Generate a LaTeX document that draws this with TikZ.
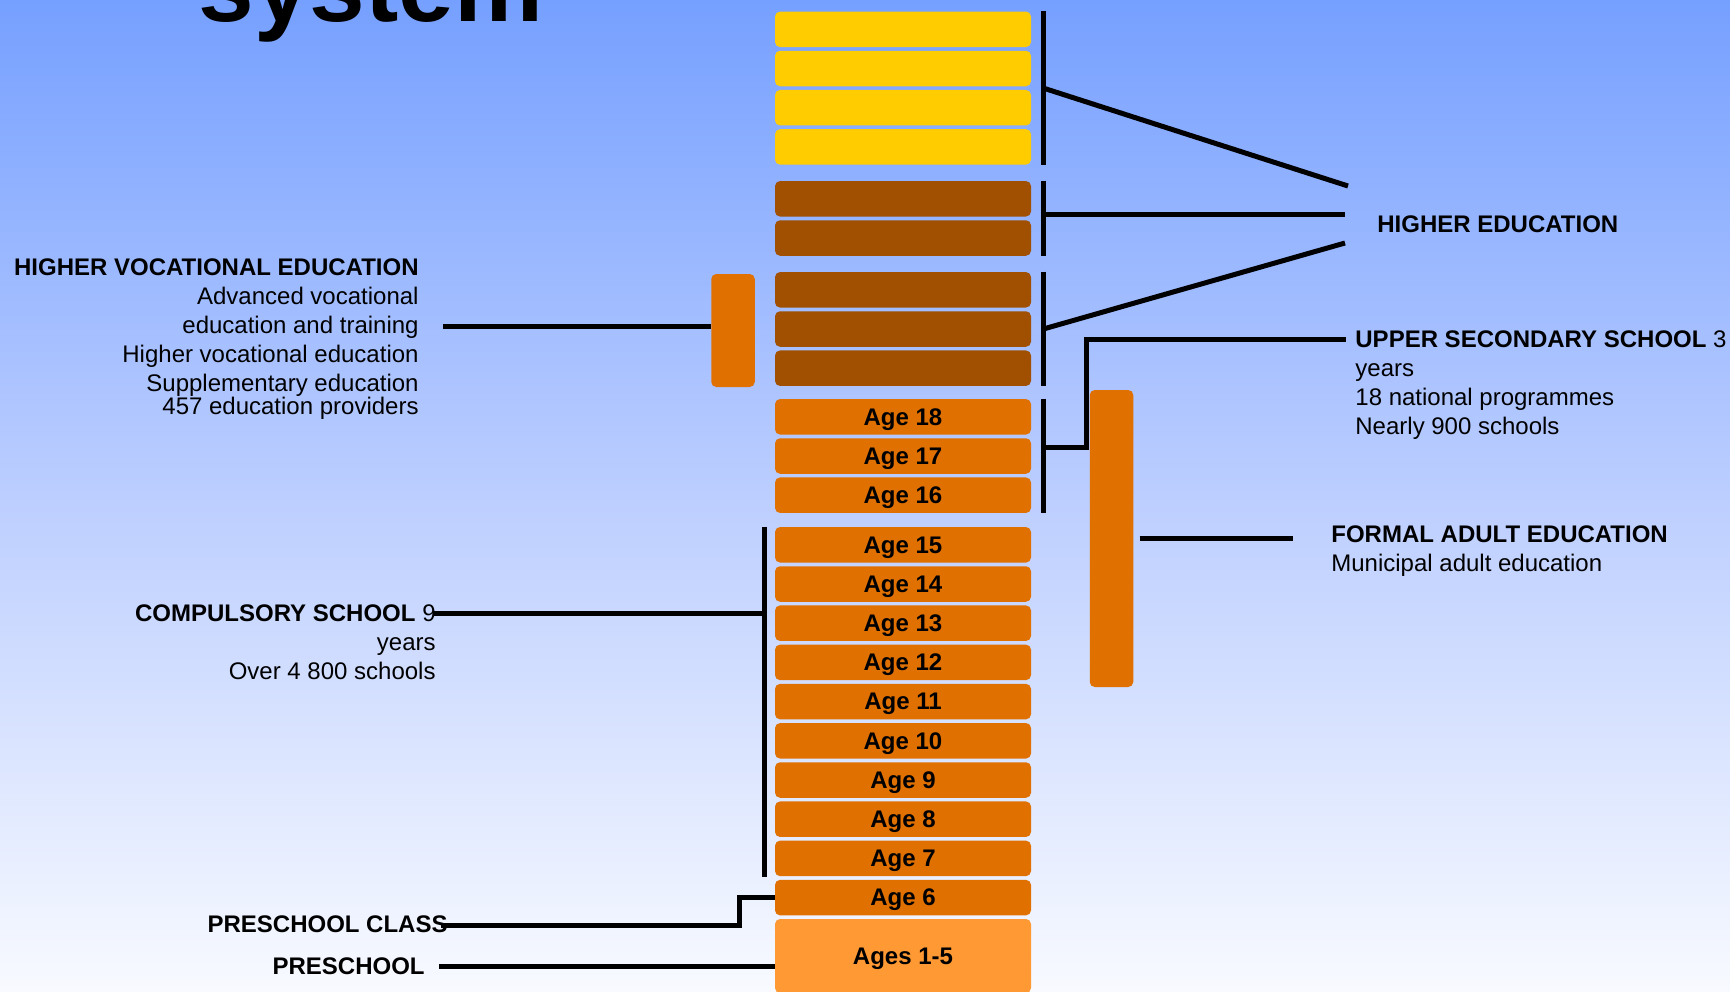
\documentclass[tikz,border=0pt]{standalone}
\usepackage{fontspec}
\setmainfont{Liberation Sans}
\usetikzlibrary{calc}
\definecolor{bgtop}{RGB}{118,160,255}
\definecolor{bgmid}{RGB}{188,206,255}
\definecolor{bgbot}{RGB}{248,250,255}
\definecolor{uniyellow}{RGB}{255,204,0}
\definecolor{unibrown}{RGB}{160,80,0}
\definecolor{ageorange}{RGB}{224,112,0}
\definecolor{preorange}{RGB}{255,153,51}
\pgfdeclareverticalshading{bgshade}{100bp}{color(0bp)=(bgbot); color(25bp)=(bgbot); color(50bp)=(bgmid); color(75bp)=(bgtop); color(100bp)=(bgtop)}

\begin{document}
\begin{tikzpicture}[x=0.5pt,y=-0.5pt]

    \tikzset{yearbox/.style={shape=rectangle,rounded corners=2.5pt,minimum width=128pt,minimum height=17.75pt,inner sep=0pt,text depth=0pt,font=\bfseries\fontsize{12}{14}\selectfont},
        unibox/.style={yearbox,fill=uniyellow},
        mastbox/.style={yearbox,fill=unibrown},
        agebox/.style={yearbox,fill=ageorange},
        barbox/.style={shape=rectangle,rounded corners=2.5pt,minimum width=21.75pt,inner sep=0pt,fill=ageorange},
        txt/.style={inner sep=0pt,font=\fontsize{12}{14.5}\selectfont}}

    \useasboundingbox (0,0) rectangle (1730,991);
    \clip (0,0) rectangle (1730,991);
    \shade[shading=bgshade] (0,0) rectangle (1730,991);

    \node[anchor=base west,inner sep=0pt,font=\bfseries\fontsize{50}{60}\selectfont] (title) at (198,21) {system};

    \foreach \i/\y in {1/29.3,2/68.5,3/107.7,4/146.9}
        \node[unibox] (u\i) at (903,\y) {};
    \foreach \i/\y in {1/198.8,2/238,3/289.8,4/329,5/368.2}
        \node[mastbox] (m\i) at (903,\y) {};
    \foreach \a/\y in {18/416.8,17/456,16/495.2,15/544.8,14/584,13/623.2,12/662.4,11/701.6,10/740.8,9/780,8/819.2,7/858.4,6/897.6}
        \node[agebox] (a\a) at (903,\y) {Age \a};
    \node[agebox,fill=preorange,minimum height=37pt] (pre) at (903,956) {Ages 1-5};

    \node[barbox,minimum height=56.5pt] (hvebar) at (733,330.5) {};
    \node[barbox,minimum height=148.5pt] (faebar) at (1111.5,538.5) {};

    \node[txt,align=right,anchor=base east] (hve) at (419,414) {\textbf{HIGHER VOCATIONAL EDUCATION}\\Advanced vocational\\education and training\\Higher vocational education\\Supplementary education\\[-3pt]457 education providers};
    \node[txt,align=right,anchor=base east] (cmp) at (436,679) {\textbf{COMPULSORY SCHOOL} 9\\years\\Over 4 800 schools};
    \node[txt,anchor=base east] (pcl) at (448,932) {\textbf{PRESCHOOL CLASS}};
    \node[txt,anchor=base east] (psc) at (425,974) {\textbf{PRESCHOOL}};
    \node[txt,anchor=base west] (he) at (1377,232) {\textbf{HIGHER EDUCATION}};
    \node[txt,align=left,anchor=base west] (uss) at (1355,434) {\textbf{UPPER SECONDARY SCHOOL} 3\\years\\18 national programmes\\Nearly 900 schools};
    \node[txt,align=left,anchor=base west] (fae) at (1331,571) {\textbf{FORMAL ADULT EDUCATION}\\Municipal adult education};

    \coordinate (hveend) at (443,326);
    \coordinate (cmpend) at (433,613);
    \coordinate (pclend) at (441,925);
    \coordinate (pscend) at (439,966);
    \coordinate (heup) at (1348,186);
    \coordinate (hemid) at (1345,214);
    \coordinate (helow) at (1345,243);
    \coordinate (ussend) at (1346,339);
    \coordinate (faeend) at (1293,538.5);

    \begin{scope}[every path/.style={line width=2.5pt}]
        \draw ([xshift=6pt]u1.north east) -- ([xshift=6pt]u4.south east);
        \draw ($([xshift=6pt]u1.north east)!0.5!([xshift=6pt]u4.south east)$) -- (heup);
        \draw ([xshift=6pt]m1.north east) -- ([xshift=6pt]m2.south east);
        \draw ($(hemid -| m1.east)+(6pt,0)$) -- (hemid);
        \draw ([xshift=6pt]m3.north east) -- ([xshift=6pt]m5.south east);
        \draw ($([xshift=6pt]m3.north east)!0.5!([xshift=6pt]m5.south east)$) -- (helow);
        \draw ([xshift=6pt]a18.north east) -- ([xshift=6pt]a16.south east);
        \draw ($(a17.east)+(6pt,4.5pt)$) -- ++(21.5pt,0) |- (ussend);
        \draw ([xshift=3pt]faebar.east) -- (faeend);

        \draw ([xshift=-5pt]a15.north west) -- ([xshift=-5pt]a7.south west);
        \draw (cmpend) -- ($(cmpend -| a15.west)+(-5pt,0)$);
        \draw (hveend) -- (hveend -| hvebar.west);
        \draw (a6.west) -- ++(-17.5pt,0) |- (pclend);
        \draw (pscend) -- (pscend -| pre.west);
    \end{scope}
\end{tikzpicture}
\end{document}
